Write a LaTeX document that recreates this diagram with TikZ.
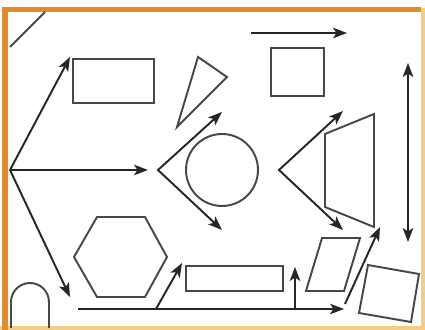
\documentclass[tikz,border=0pt]{standalone}
\usetikzlibrary{arrows.meta}
\definecolor{framedark}{RGB}{228,138,42}
\definecolor{framelight}{RGB}{246,204,128}
\tikzset{
  movearr/.style={-{Stealth[length=2.8mm,width=2.1mm,inset=0.7mm]}, line width=1.1pt, draw=black!85},
  shapeline/.style={draw=black!72, line width=1.1pt},
}

\begin{document}
\begin{tikzpicture}[
  x=0.02cm, y=-0.02cm,
  box/.style={shapeline, rectangle, inner sep=0pt},
  bothway/.style={movearr, {Stealth[length=2.8mm,width=2.1mm,inset=0.7mm]}-{Stealth[length=2.8mm,width=2.1mm,inset=0.7mm]}},
]
  \useasboundingbox (0,0) rectangle (425,330);
  \fill[white] (0,0) rectangle (425,330);

  % frame
  \draw[framelight, line width=2.4pt] (423,8) -- (423,330);
  \draw[framelight, line width=2.4pt] (0,328) -- (425,328);
  \draw[framedark, line width=3.2pt] (5,330) -- (5,9.5) -- (421,9.5);

  % shapes
  \draw[shapeline] (45,12) -- (10,47);
  \draw[shapeline] (11,328) -- (11,302) arc[start angle=180, end angle=0, radius=0.38cm] -- (49,328);
  \node[box, minimum width=1.62cm, minimum height=0.88cm] (wide)   at (113.5,81)  {};
  \node[box, minimum width=1.06cm, minimum height=0.96cm] (square) at (297.5,72)  {};
  \node[box, minimum width=1.94cm, minimum height=0.5cm]  (slot)   at (234.5,278.5) {};
  \node[shapeline, circle, inner sep=0pt, minimum size=1.44cm] (ball) at (222,170) {};
  \draw[shapeline] (198,57) -- (227,77) -- (177,127) -- cycle;
  \draw[shapeline] (325,134) -- (374,114) -- (374,227) -- (325,207) -- cycle;
  \draw[shapeline] (74,257) -- (97,217) -- (145,217) -- (167,257) -- (145,297) -- (97,297) -- cycle;
  \draw[shapeline] (322,238) -- (360,238) -- (344,291) -- (306,291) -- cycle;
  \draw[shapeline] (368,265) -- (419,274) -- (411,322) -- (359,313) -- cycle;

  % arrow ends
  \coordinate (hub)   at (10,170);
  \coordinate (hubN)  at (70,57);
  \coordinate (hubE)  at (148,170);
  \coordinate (hubS)  at (70,297);
  \coordinate (topL)  at (251,33);
  \coordinate (topR)  at (347,33);
  \coordinate (sideN) at (408,63);
  \coordinate (sideS) at (408,242);
  \coordinate (vL)    at (158,170);
  \coordinate (vLN)   at (222,112);
  \coordinate (vLS)   at (222,230);
  \coordinate (vR)    at (279,170);
  \coordinate (vRN)   at (343,111);
  \coordinate (vRS)   at (343,230);
  \coordinate (baseL) at (78,309);
  \coordinate (baseR) at (344,309);
  \coordinate (forkA) at (156,309);
  \coordinate (tipA)  at (182,263);
  \coordinate (forkB) at (295,309);
  \coordinate (tipB)  at (295,267);
  \coordinate (rise)  at (345,304);
  \coordinate (riseT) at (380,227);

  % arrows
  \draw[movearr] (hub) -- (hubN);
  \draw[movearr] (hub) -- (hubE);
  \draw[movearr] (hub) -- (hubS);
  \draw[movearr] (topL) -- (topR);
  \draw[bothway] (sideN) -- (sideS);
  \draw[bothway] (vLN) -- (vL) -- (vLS);
  \draw[bothway] (vRN) -- (vR) -- (vRS);
  \draw[movearr] (baseL) -- (baseR);
  \draw[movearr] (forkA) -- (tipA);
  \draw[movearr] (forkB) -- (tipB);
  \draw[movearr] (rise) -- (riseT);
\end{tikzpicture}
\end{document}
